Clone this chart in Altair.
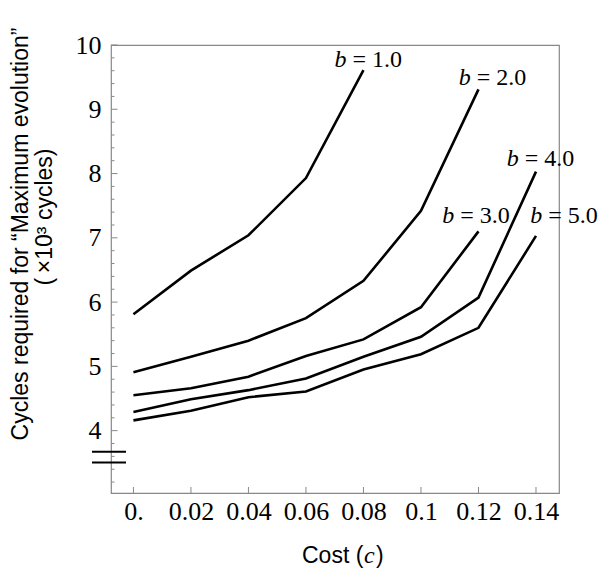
import altair as alt
import pandas as pd

# ---- data ----
cost = [0.0, 0.02, 0.04, 0.06, 0.08, 0.10, 0.12, 0.14]
b1 = [5.81, 6.49, 7.04, 7.93, 9.61]
b2 = [4.91, 5.15, 5.40, 5.75, 6.33, 7.42, 9.31]
b3 = [4.55, 4.66, 4.84, 5.16, 5.42, 5.92, 7.10]
b4 = [4.29, 4.49, 4.63, 4.81, 5.15, 5.46, 6.07, 8.03]
b5 = [4.16, 4.31, 4.52, 4.61, 4.95, 5.19, 5.60, 7.03]
series_names = ["1.0", "2.0", "3.0", "4.0", "5.0"]

label_x = [0.0699, 0.1131, 0.1074, 0.1298, 0.1380]
label_y = [9.66, 9.38, 7.23, 8.11, 7.23]

x_tick_values = [0.0, 0.02, 0.04, 0.06, 0.08, 0.10, 0.12, 0.14]
y_major = [4, 5, 6, 7, 8, 9, 10]
y_minor = [3.2, 3.4, 3.6, 3.8, 4.2, 4.4, 4.6, 4.8, 5.2, 5.4, 5.6, 5.8,
           6.2, 6.4, 6.6, 6.8, 7.2, 7.4, 7.6, 7.8, 8.2, 8.4, 8.6, 8.8,
           9.2, 9.4, 9.6, 9.8]
break_y = [3.67, 3.505]

y_title_1 = "Cycles required for \u201cMaximum evolution\u201d"
y_title_2 = "(\u2009\u00d710\u00b3 cycles)"

# ---- tables ----
rows = []
for name, vals in zip(series_names, [b1, b2, b3, b4, b5]):
    for c, v in zip(cost, vals):
        rows.append({"series": name, "cost": c, "cycles": v})
df = pd.DataFrame(rows)

labels_df = pd.DataFrame({
    "series": series_names,
    "lx": label_x,
    "ly": label_y,
    "eq": ["= " + s for s in series_names],
})

W, H = 448, 448
GRAY = "#888888"
SERIF = "Liberation Serif"
SANS = "Liberation Sans"

XS = alt.Scale(domain=[-0.0078, 0.148], nice=False, zero=False)
YS = alt.Scale(domain=[3.03, 10], nice=False, zero=False)

XA = alt.Axis(
    values=x_tick_values, title=None, grid=False, domain=False,
    ticks=False, tickSize=0, labelFont=SERIF, labelFontSize=26,
    labelColor="black", labelPadding=5, labelFlush=False,
    labelOverlap=False,
    labelExpr="datum.value == 0 ? '0.' : format(datum.value, '~g')")
YA = alt.Axis(
    values=y_major, title=None, grid=False, domain=False,
    ticks=False, tickSize=0, labelFont=SERIF, labelFontSize=26,
    labelColor="black", labelPadding=10, labelFlush=False,
    labelOverlap=False, labelBaseline="middle")


def X(field):
    return alt.X(field, type="quantitative", scale=XS, axis=XA)


def Y(field):
    return alt.Y(field, type="quantitative", scale=YS, axis=YA)


lines = alt.Chart(df).mark_line(color="black", strokeWidth=2.6).encode(
    x=X("cost"), y=Y("cycles"), detail="series:N")

ytick_major = alt.Chart(pd.DataFrame({"v": y_major})).mark_rule(
    color=GRAY, strokeWidth=1).encode(
    y=Y("v"), x=alt.value(0), x2=alt.value(6.5))
ytick_minor = alt.Chart(pd.DataFrame({"v": y_minor})).mark_rule(
    color=GRAY, strokeWidth=1).encode(
    y=Y("v"), x=alt.value(0), x2=alt.value(3.5))
xtick = alt.Chart(pd.DataFrame({"c": x_tick_values})).mark_rule(
    color=GRAY, strokeWidth=1).encode(
    x=X("c"), y=alt.value(H), y2=alt.value(H - 6))

brk = alt.Chart(pd.DataFrame({"v": break_y})).mark_rule(
    color="black", strokeWidth=2).encode(
    y=Y("v"), x=alt.value(-19), x2=alt.value(15))

lab_b = alt.Chart(labels_df).mark_text(
    text="b", font=SERIF, fontStyle="italic", fontSize=24, align="left",
    baseline="alphabetic", color="black").encode(x=X("lx"), y=Y("ly"))
lab_eq = alt.Chart(labels_df).mark_text(
    font=SERIF, fontSize=24, align="left", baseline="alphabetic",
    color="black", dx=18).encode(x=X("lx"), y=Y("ly"), text="eq:N")

one = pd.DataFrame({"k": [0]})
yt1 = alt.Chart(one).mark_text(
    text=y_title_1, font=SANS, fontSize=23, angle=270, align="center",
    baseline="alphabetic", color="black").encode(
    x=alt.value(-83), y=alt.value(189))
yt2 = alt.Chart(one).mark_text(
    text=y_title_2, font=SANS, fontSize=23, angle=270, align="center",
    baseline="alphabetic", color="black").encode(
    x=alt.value(-59), y=alt.value(172))

xt1 = alt.Chart(one).mark_text(
    text="Cost (", font=SANS, fontSize=23, align="left",
    baseline="alphabetic", color="black").encode(
    x=alt.value(191), y=alt.value(518))
xt2 = alt.Chart(one).mark_text(
    text="c", font=SERIF, fontStyle="italic", fontSize=24, align="left",
    baseline="alphabetic", color="black").encode(
    x=alt.value(253), y=alt.value(518))
xt3 = alt.Chart(one).mark_text(
    text=")", font=SANS, fontSize=23, align="left",
    baseline="alphabetic", color="black").encode(
    x=alt.value(265), y=alt.value(518))

chart = alt.layer(
    lines, ytick_major, ytick_minor, xtick, brk, lab_b, lab_eq,
    yt1, yt2, xt1, xt2, xt3
).properties(
    width=W, height=H,
    autosize=alt.AutoSizeParams(type="none"),
    padding={"left": 103, "top": 37, "right": 41, "bottom": 78},
    background="white",
).configure_view(stroke=GRAY, strokeWidth=1.2)

chart.save("out.html", embed_options={"renderer": "svg", "actions": False})
